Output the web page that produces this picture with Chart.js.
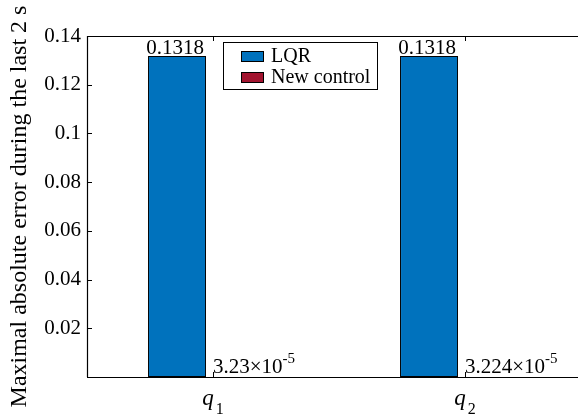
<!DOCTYPE html>
<html>
<head>
<meta charset="utf-8">
<script src="https://cdn.jsdelivr.net/npm/chart.js@4.4.1/dist/chart.umd.min.js"></script>
<style>
  html, body { margin: 0; padding: 0; background: #fff; overflow: hidden; }
  #wrap { width: 600px; height: 420px; }
</style>
</head>
<body>
<div id="wrap"><canvas id="c" width="600" height="420"></canvas></div>
<script>
// Joint indices shown under each group (q_1, q_2)
const jointSymbol = 'q';
const jointIndices = ['1', '2'];

// Maximal absolute error during the last 2 s, per joint
const lqrError = [0.1318, 0.1318];
const newControlError = [3.23e-5, 3.224e-5];

const seriesNames = ['LQR', 'New control'];
const seriesColors = ['#0072BD', '#A2142F'];

// Value axis ticks
const yTickValues = [0.02, 0.04, 0.06, 0.08, 0.1, 0.12, 0.14];
const yTickLabels = ['0.02', '0.04', '0.06', '0.08', '0.1', '0.12', '0.14'];
const yMax = 0.14;

const SERIF = '"Liberation Serif", "Times New Roman", serif';

// Draws a value with a power-of-ten suffix when it is very small
function drawValueLabel(ctx, value, x, y, align) {
  ctx.save();
  ctx.fillStyle = '#000';
  ctx.textBaseline = 'alphabetic';
  if (Math.abs(value) < 1e-3) {
    const [m, e] = value.toExponential().split('e');
    const main = m + '\u00D710';
    const sup = String(parseInt(e, 10));
    ctx.font = '21px ' + SERIF;
    const wMain = ctx.measureText(main).width;
    ctx.font = '15px ' + SERIF;
    const wSup = ctx.measureText(sup).width;
    const total = wMain + wSup;
    const x0 = align === 'left' ? x : x - total / 2;
    ctx.font = '21px ' + SERIF;
    ctx.textAlign = 'left';
    ctx.fillText(main, x0, y);
    ctx.font = '15px ' + SERIF;
    ctx.fillText(sup, x0 + wMain, y - 10);
  } else {
    ctx.font = '21px ' + SERIF;
    ctx.textAlign = 'center';
    ctx.fillText(String(value), x, y);
  }
  ctx.restore();
}

const decorPlugin = {
  id: 'decor',
  afterDatasetsDraw(chart) {
    const { ctx, chartArea: a, scales } = chart;
    const xs = scales.x, ys = scales.y;

    // Frame: top, left, bottom
    ctx.save();
    ctx.strokeStyle = '#000';
    ctx.lineWidth = 1.2;
    ctx.beginPath();
    ctx.moveTo(a.left, a.top + 0.5); ctx.lineTo(a.right + 20, a.top + 0.5);
    ctx.moveTo(a.left + 0.5, a.top); ctx.lineTo(a.left + 0.5, a.bottom);
    ctx.moveTo(a.left, a.bottom + 0.5); ctx.lineTo(a.right + 20, a.bottom + 0.5);
    ctx.stroke();

    // Inward tick marks
    ctx.lineWidth = 1;
    ctx.beginPath();
    yTickValues.forEach(v => {
      const py = Math.round(ys.getPixelForValue(v)) + 0.5;
      ctx.moveTo(a.left, py); ctx.lineTo(a.left + 5, py);
    });
    jointIndices.forEach((_, i) => {
      const px = Math.round(xs.getPixelForValue(i)) + 0.5;
      ctx.moveTo(px, a.top); ctx.lineTo(px, a.top + 5);
      ctx.moveTo(px, a.bottom); ctx.lineTo(px, a.bottom - 5);
    });
    ctx.stroke();
    ctx.restore();

    // Category labels: italic symbol with subscript index
    ctx.save();
    ctx.fillStyle = '#000';
    ctx.textBaseline = 'alphabetic';
    jointIndices.forEach((idx, i) => {
      const cx = xs.getPixelForValue(i);
      ctx.font = 'italic 23px ' + SERIF;
      const wq = ctx.measureText(jointSymbol).width;
      ctx.font = '16px ' + SERIF;
      const ws = ctx.measureText(idx).width;
      const x0 = cx - (wq + ws + 2) / 2;
      ctx.font = 'italic 23px ' + SERIF;
      ctx.textAlign = 'left';
      ctx.fillText(jointSymbol, x0, a.bottom + 28);
      ctx.font = '16px ' + SERIF;
      ctx.fillText(idx, x0 + wq + 2, a.bottom + 37);
    });
    ctx.restore();

    // Value labels above bars
    const m0 = chart.getDatasetMeta(0), m1 = chart.getDatasetMeta(1);
    lqrError.forEach((v, i) => {
      const bar = m0.data[i];
      drawValueLabel(ctx, v, bar.x - 2, bar.y - 2, 'center');
    });
    newControlError.forEach((v, i) => {
      const cx = xs.getPixelForValue(i);
      drawValueLabel(ctx, v, cx, m1.data[i].y - 4, 'left');
    });

    // Legend box inside the axes
    const lx = a.left + 136, ly = a.top + 6, lw = 154, lh = 47;
    ctx.save();
    ctx.fillStyle = '#fff';
    ctx.fillRect(lx, ly, lw, lh);
    ctx.strokeStyle = '#000';
    ctx.lineWidth = 1;
    ctx.strokeRect(lx + 0.5, ly + 0.5, lw, lh);
    seriesNames.forEach((name, i) => {
      const sy = ly + 9 + i * 21;
      ctx.fillStyle = seriesColors[i];
      ctx.fillRect(lx + 18, sy, 22, 10);
      ctx.strokeStyle = '#000';
      ctx.strokeRect(lx + 18.5, sy + 0.5, 22, 10);
      ctx.fillStyle = '#000';
      ctx.font = '20px ' + SERIF;
      ctx.textAlign = 'left';
      ctx.textBaseline = 'alphabetic';
      ctx.fillText(name, lx + 48, sy + 11);
    });
    ctx.restore();
  }
};

new Chart(document.getElementById('c'), {
  type: 'bar',
  data: {
    labels: jointIndices.map(i => jointSymbol + i),
    datasets: [
      {
        label: seriesNames[0],
        data: lqrError,
        backgroundColor: seriesColors[0],
        borderColor: '#000',
        borderWidth: 1,
        borderSkipped: false
      },
      {
        label: seriesNames[1],
        data: newControlError,
        backgroundColor: seriesColors[1],
        borderColor: '#000',
        borderWidth: 1,
        borderSkipped: false
      }
    ]
  },
  options: {
    responsive: false,
    animation: false,
    devicePixelRatio: 1,
    categoryPercentage: 0.571,
    barPercentage: 0.806,
    layout: { padding: { left: 0, top: 36, right: 9, bottom: 0 } },
    plugins: {
      legend: { display: false },
      tooltip: { enabled: false }
    },
    scales: {
      x: {
        grid: { display: false, drawTicks: false },
        border: { display: false },
        ticks: { display: false },
        afterFit(scale) { scale.height = 43; }
      },
      y: {
        min: 0,
        max: yMax,
        afterBuildTicks(scale) {
          scale.ticks = [{ value: 0 }].concat(yTickValues.map(v => ({ value: v })));
        },
        grid: { display: false, drawTicks: false },
        border: { display: false },
        ticks: {
          padding: 6,
          color: '#000',
          font: { family: SERIF, size: 21 },
          callback(v) {
            const k = yTickValues.findIndex(t => Math.abs(t - v) < 1e-9);
            return k >= 0 ? yTickLabels[k] : '';
          }
        },
        title: {
          display: true,
          text: 'Maximal absolute error during the last 2 s',
          color: '#000',
          font: { family: SERIF, size: 24 },
          padding: { top: 5, bottom: 0 }
        },
        afterFit(scale) { scale.width = 87; }
      }
    }
  },
  plugins: [decorPlugin]
});
</script>
</body>
</html>
